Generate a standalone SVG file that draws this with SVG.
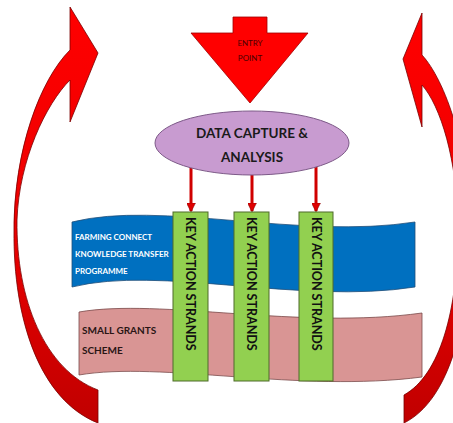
<svg xmlns="http://www.w3.org/2000/svg" width="453" height="423" viewBox="0 0 453 423">
<style>
.ka{fill:#92d050;stroke:#4f6b2a;stroke-width:1}
.kt{font-family:Lato,"Open Sans",sans-serif;font-weight:bold;font-size:12.5px;fill:#111}
.bt{font-family:Lato,"Open Sans",sans-serif;font-weight:bold;font-size:8px;fill:#fff}
.pt{font-family:Lato,"Open Sans",sans-serif;font-weight:bold;font-size:10px;fill:#2a1515}
.et{font-family:Lato,"Open Sans",sans-serif;font-size:8px;fill:#4a0000}
.conn{stroke:#d00000;stroke-width:3;fill:none}
</style>
<defs>
<linearGradient id="gl" x1="0" y1="0" x2="0" y2="1">
<stop offset="0" stop-color="#ff0000"/><stop offset="0.5" stop-color="#ee0000"/><stop offset="1" stop-color="#c00000"/>
</linearGradient>
<marker id="ah" viewBox="0 0 10 10" refX="9" refY="5" markerWidth="3" markerHeight="3" orient="auto" markerUnits="strokeWidth">
<path d="M0,0 L10,5 L0,10 Z" fill="#e00000" stroke="#800000" stroke-width="0.6"/>
</marker>
</defs>
<rect width="453" height="423" fill="#fff"/>
<g id="left-loop">
<path d="M70,7 L98,53 L70,122 L70,80 C46,104 19,160 17,220 C16,300 45,370 98,390 L98,423 C40,400 13,320 14,230 C14,150 40,80 70,50 Z" fill="url(#gl)" stroke="#7a0000" stroke-width="0.8"/>
</g>
<g id="right-loop">
<path d="M422,13 L403,59 L422,127 L422,85 C440,105 458,160 458,230 C458,310 440,375 404,395 L404,423 C450,400 470,320 470,230 C470,150 445,80 422,55 Z" fill="url(#gl)" stroke="#7a0000" stroke-width="0.8"/>
</g>
<g id="entry-point">
<path d="M233,17 L267,17 L267,33 L308,33 L250,103 L191,33 L233,33 Z" fill="#ff0000" stroke="#a00000" stroke-width="0.8"/>
<text class="et" x="250" y="46" text-anchor="middle">ENTRY</text>
<text class="et" x="250" y="61" text-anchor="middle">POINT</text>
</g>
<g id="connectors">
<line class="conn" x1="191" y1="162" x2="191" y2="211" marker-end="url(#ah)"/>
<line class="conn" x1="252" y1="170" x2="252" y2="211" marker-end="url(#ah)"/>
<line class="conn" x1="316" y1="162" x2="316" y2="211" marker-end="url(#ah)"/>
</g>
<g id="data-capture">
<ellipse cx="252" cy="143" rx="97" ry="32" fill="#c89bd0" stroke="#7d5a88" stroke-width="1"/>
<text x="252" y="138" text-anchor="middle" font-family="Lato,'Open Sans',sans-serif" font-weight="bold" font-size="13.5" fill="#1a1a1a">DATA CAPTURE &amp;</text>
<text x="252" y="162" text-anchor="middle" font-family="Lato,'Open Sans',sans-serif" font-weight="bold" font-size="13.5" fill="#1a1a1a">ANALYSIS</text>
</g>
<g id="farming-connect">
<path d="M72,222 C160,200 300,240 415,222 L415,287 C300,305 160,265 72,287 Z" fill="#0070c0" stroke="#1f4e79" stroke-width="0.8"/>
<text class="bt" x="75" y="240">FARMING CONNECT</text>
<text class="bt" x="75" y="257">KNOWLEDGE TRANSFER</text>
<text class="bt" x="75" y="274">PROGRAMME</text>
</g>
<g id="small-grants">
<path d="M79,312 C160,298 300,330 422,313 L422,377 C300,393 160,361 79,375 Z" fill="#d99594" stroke="#7a4a4a" stroke-width="0.8"/>
<text class="pt" x="82" y="334">SMALL GRANTS</text>
<text class="pt" x="82" y="354">SCHEME</text>
</g>
<g id="strand-1">
<rect class="ka" x="173" y="212" width="35" height="169"/>
<text class="kt" transform="translate(186,217) rotate(90)">KEY ACTION STRANDS</text>
</g>
<g id="strand-2">
<rect class="ka" x="234" y="212" width="35" height="169"/>
<text class="kt" transform="translate(247,217) rotate(90)">KEY ACTION STRANDS</text>
</g>
<g id="strand-3">
<rect class="ka" x="299" y="212" width="34" height="169"/>
<text class="kt" transform="translate(311.5,217) rotate(90)">KEY ACTION STRANDS</text>
</g>
</svg>
